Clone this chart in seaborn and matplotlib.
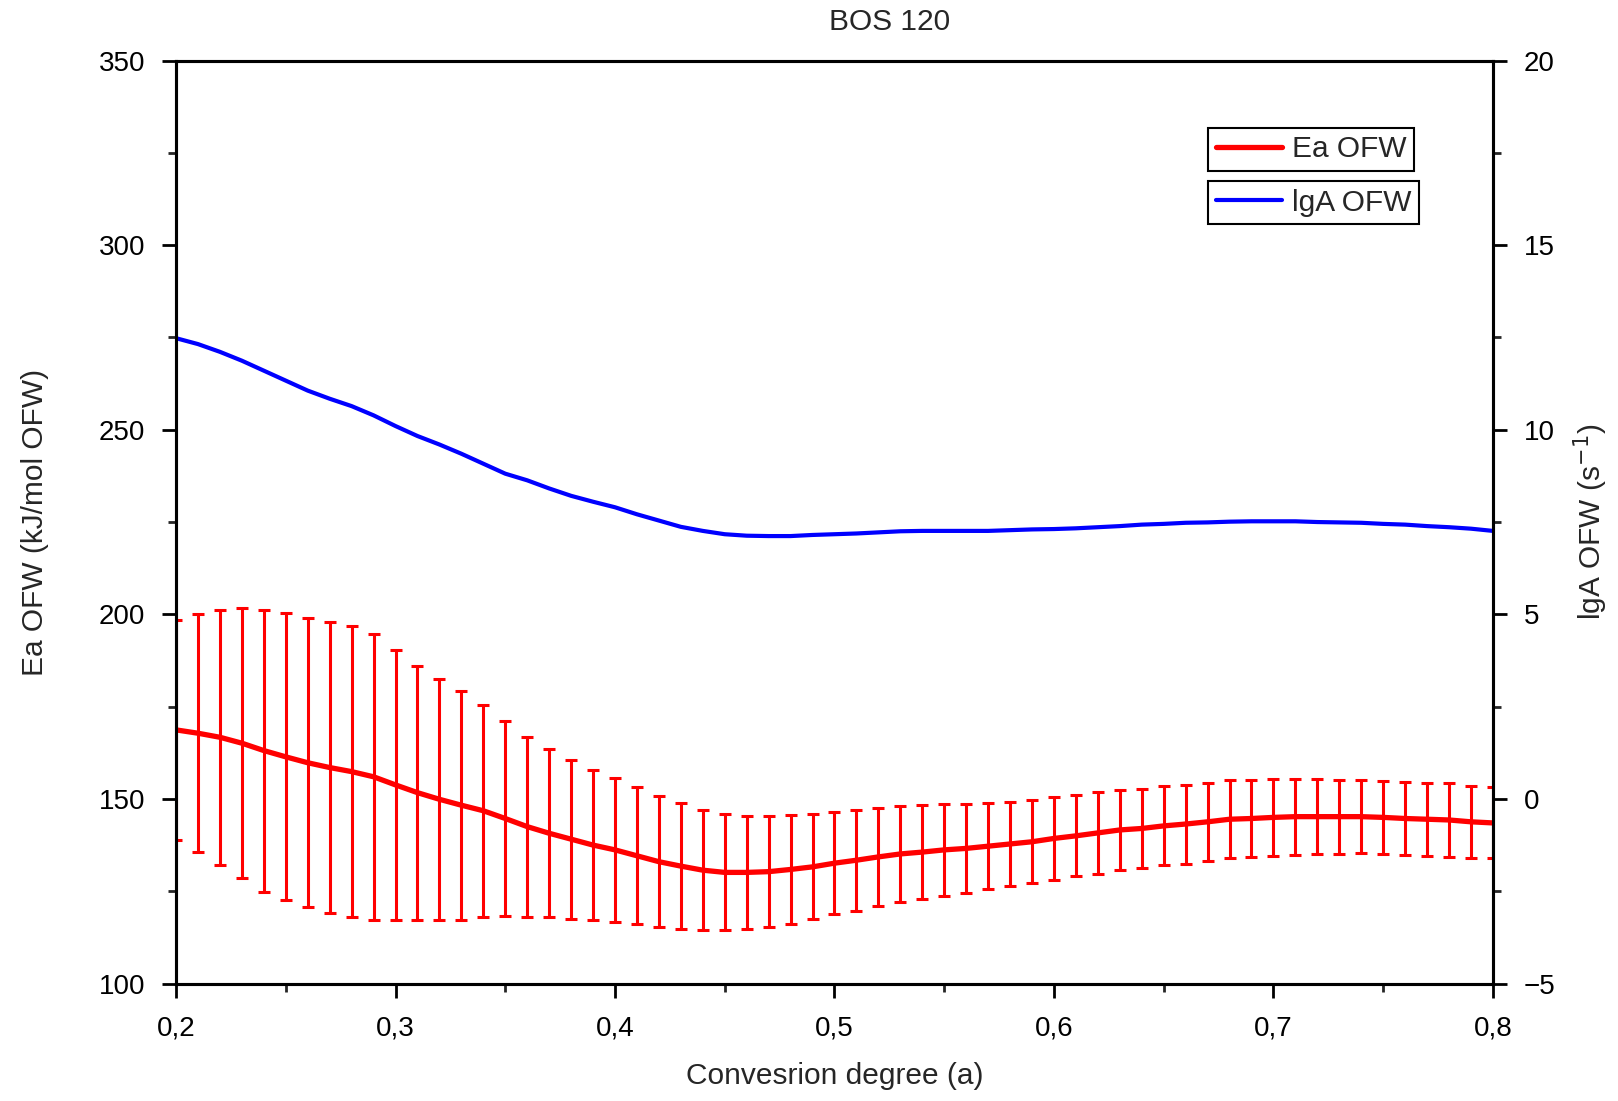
import matplotlib
matplotlib.use("Agg")
import matplotlib.pyplot as plt
import matplotlib.ticker as mticker
import seaborn as sns
import pandas as pd

# conversion degree 0.20 ... 0.80 in steps of 0.01
alpha = [0.20, 0.21, 0.22, 0.23, 0.24, 0.25, 0.26, 0.27, 0.28, 0.29,
         0.30, 0.31, 0.32, 0.33, 0.34, 0.35, 0.36, 0.37, 0.38, 0.39,
         0.40, 0.41, 0.42, 0.43, 0.44, 0.45, 0.46, 0.47, 0.48, 0.49,
         0.50, 0.51, 0.52, 0.53, 0.54, 0.55, 0.56, 0.57, 0.58, 0.59,
         0.60, 0.61, 0.62, 0.63, 0.64, 0.65, 0.66, 0.67, 0.68, 0.69,
         0.70, 0.71, 0.72, 0.73, 0.74, 0.75, 0.76, 0.77, 0.78, 0.79,
         0.80]

ea = [168.7, 167.8, 166.7, 165.1, 163.1, 161.4, 159.8, 158.5, 157.4, 156.0,
      153.8, 151.7, 149.9, 148.3, 146.8, 144.7, 142.5, 140.7, 139.1, 137.5,
      136.2, 134.6, 133.0, 131.8, 130.7, 130.1, 130.1, 130.3, 130.9, 131.6,
      132.6, 133.4, 134.3, 135.1, 135.6, 136.2, 136.6, 137.2, 137.8, 138.4,
      139.3, 140.0, 140.8, 141.6, 142.0, 142.7, 143.2, 143.8, 144.5, 144.7,
      145.0, 145.2, 145.2, 145.2, 145.2, 145.0, 144.7, 144.5, 144.3, 143.8,
      143.5]

ea_err = [29.9, 32.2, 34.5, 36.5, 38.2, 38.9, 39.1, 39.3, 39.5, 38.7,
          36.6, 34.4, 32.6, 31.0, 28.7, 26.3, 24.4, 22.8, 21.5, 20.4,
          19.5, 18.5, 17.7, 17.0, 16.3, 15.7, 15.4, 15.0, 14.7, 14.2,
          13.9, 13.7, 13.3, 13.1, 12.7, 12.4, 12.0, 11.7, 11.5, 11.3,
          11.2, 11.0, 11.0, 10.8, 10.7, 10.7, 10.7, 10.6, 10.5, 10.4,
          10.4, 10.3, 10.2, 10.0, 9.9, 9.9, 10.0, 9.9, 10.0, 9.7,
          9.6]

lga = [12.48, 12.32, 12.11, 11.87, 11.60, 11.33, 11.06, 10.84, 10.64, 10.39,
       10.10, 9.83, 9.60, 9.35, 9.08, 8.81, 8.63, 8.41, 8.21, 8.05,
       7.90, 7.71, 7.54, 7.37, 7.26, 7.17, 7.13, 7.12, 7.12, 7.15,
       7.17, 7.19, 7.22, 7.25, 7.26, 7.26, 7.26, 7.26, 7.28, 7.30,
       7.31, 7.33, 7.36, 7.39, 7.43, 7.45, 7.48, 7.49, 7.51, 7.52,
       7.52, 7.52, 7.50, 7.49, 7.48, 7.45, 7.43, 7.39, 7.36, 7.32,
       7.26]

df = pd.DataFrame({"alpha": alpha, "ea": ea, "ea_err": ea_err, "lga": lga})

sns.set_style("ticks")
plt.rcParams["font.family"] = ["Liberation Sans", "DejaVu Sans"]
TICK_FS = 20
LABEL_FS = 21.5

fig, ax = plt.subplots(figsize=(16.18, 11.01), dpi=100)
fig.subplots_adjust(left=0.1088, right=0.9227, top=0.945, bottom=0.1067)
ax2 = ax.twinx()

ax.errorbar(df["alpha"], df["ea"], yerr=df["ea_err"], fmt="none",
            ecolor="#ff0000", elinewidth=2.2, capsize=4.5, capthick=2.2, zorder=2)
sns.lineplot(data=df, x="alpha", y="ea", ax=ax, color="#ff0000",
             linewidth=3.8, label="Ea OFW", legend=False, zorder=3)
sns.lineplot(data=df, x="alpha", y="lga", ax=ax2, color="#0000ff",
             linewidth=3.0, label="lgA OFW", legend=False)

ax.set_xlim(0.2, 0.8)
ax.set_ylim(100, 350)
ax2.set_ylim(-5, 20)

comma = mticker.FuncFormatter(lambda v, p: f"{v:g}".replace(".", ","))
ax.xaxis.set_major_locator(mticker.MultipleLocator(0.1))
ax.xaxis.set_minor_locator(mticker.MultipleLocator(0.05))
ax.xaxis.set_major_formatter(comma)
ax.yaxis.set_major_locator(mticker.MultipleLocator(50))
ax.yaxis.set_minor_locator(mticker.MultipleLocator(25))
ax2.yaxis.set_major_locator(mticker.MultipleLocator(5))
ax2.yaxis.set_minor_locator(mticker.MultipleLocator(2.5))

for a in (ax, ax2):
    a.tick_params(which="major", direction="out", length=10, width=2,
                  labelsize=TICK_FS, colors="black", pad=12)
    a.tick_params(which="minor", direction="out", length=6, width=2)
    for s in a.spines.values():
        s.set_linewidth(2.2)
        s.set_color("black")
    a.grid(False)
ax.tick_params(axis="x", which="major", pad=13)

ax.set_xlabel("Convesrion degree (a)", fontsize=LABEL_FS, labelpad=15)
ax.set_ylabel("Ea OFW (kJ/mol OFW)", fontsize=LABEL_FS, labelpad=36)
ax2.set_ylabel("lgA OFW (s$^{-1}$)", fontsize=LABEL_FS, labelpad=12)
ax.set_title("BOS 120", fontsize=LABEL_FS, pad=22, x=0.542)

h1, l1 = ax.get_legend_handles_labels()
h2, l2 = ax2.get_legend_handles_labels()
leg_kw = dict(loc="upper left", fontsize=LABEL_FS, frameon=True, fancybox=False,
              edgecolor="black", framealpha=1, borderpad=0.25,
              handlelength=2.2, handletextpad=0.35, borderaxespad=0)
leg1 = ax2.legend(h1, l1, bbox_to_anchor=(0.784, 0.927), **leg_kw)
leg1.get_frame().set_linewidth(1.5)
ax2.add_artist(leg1)
leg2 = ax2.legend(h2, l2, bbox_to_anchor=(0.784, 0.869), **leg_kw)
leg2.get_frame().set_linewidth(1.5)

fig.savefig("out.png", dpi=100)
